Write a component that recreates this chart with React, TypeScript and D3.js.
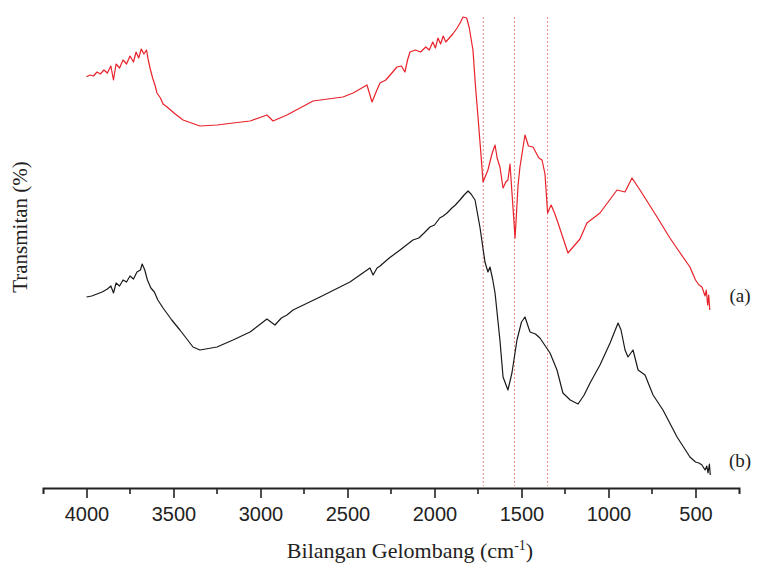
import React, { useRef, useEffect } from 'react';
import * as d3 from 'd3';

// spectrum (a): [wavenumber cm-1, transmitan] (offset upward for stacking)
const spectrumA: [number, number][] = [
  [4000, 103.3], [3980, 103.75], [3960, 103.5], [3940, 104.5], [3920, 104], [3900, 105],
  [3880, 104.25], [3860, 106], [3845, 102.5], [3830, 106.5], [3810, 105.5], [3790, 107.5],
  [3770, 106.5], [3750, 108.5], [3730, 107], [3715, 109.5], [3700, 108], [3685, 110.25],
  [3670, 109], [3655, 110], [3645, 107.5], [3635, 105.5], [3620, 103], [3605, 101],
  [3595, 99.25], [3575, 98], [3560, 96.5], [3537, 95.75], [3490, 94], [3445, 92.5], [3348, 91],
  [3250, 91.25], [3158, 91.75], [3060, 92.25], [2963, 93.75], [2928, 92.25], [2848, 93.75],
  [2698, 97.25], [2526, 98.25], [2468, 99.25], [2388, 101.25], [2359, 97], [2331, 100],
  [2313, 101.75], [2280, 102.5], [2250, 104], [2216, 105.75], [2190, 106], [2170, 104.5],
  [2155, 107.5], [2141, 109.5], [2110, 110], [2080, 109.5], [2050, 110.75], [2030, 110],
  [2010, 112], [1995, 110.5], [1980, 113], [1965, 111.5], [1950, 113.5], [1935, 112],
  [1915, 113], [1895, 114], [1870, 115.5], [1850, 117], [1836, 118.25], [1815, 118],
  [1800, 115.5], [1779, 110], [1765, 101.25], [1750, 93.25], [1735, 85], [1721, 77],
  [1693, 80], [1670, 84], [1652, 86.25], [1640, 83], [1624, 80.75], [1606, 75.5],
  [1590, 77], [1578, 77.5], [1566, 81.5], [1537, 63], [1520, 76], [1509, 80.75],
  [1480, 88.75], [1460, 86], [1434, 85.75], [1400, 83], [1382, 82.5], [1365, 79],
  [1350, 69.25], [1330, 71.25], [1310, 69.25], [1290, 66.75], [1233, 59.25], [1164, 62.75],
  [1124, 66.75], [1049, 69.25], [951, 75], [905, 74.5], [865, 78], [819, 75],
  [721, 68.25], [647, 63], [600, 60], [532, 55.75], [500, 52.5], [480, 51.25],
  [463, 50.75], [445, 48.5], [438, 50], [430, 46.25], [424, 48.75], [418, 45]
];

// spectrum (b)
const spectrumB: [number, number][] = [
  [4000, 48.25], [3970, 48.5], [3940, 49], [3910, 49.5], [3880, 50.25], [3860, 51],
  [3845, 49.25], [3830, 51.75], [3810, 51], [3790, 52.5], [3770, 52], [3750, 53.5],
  [3730, 52.75], [3710, 54.5], [3690, 55], [3680, 56.5], [3665, 55], [3650, 52.5],
  [3630, 50.5], [3610, 49.5], [3590, 47.5], [3560, 45.5], [3510, 42.5], [3463, 40], [3388, 35.75],
  [3348, 35], [3250, 35.75], [3158, 37.5], [3060, 39.5], [2963, 42.75], [2917, 41.25],
  [2880, 43], [2848, 43.75], [2813, 45], [2658, 48.25], [2486, 52], [2371, 55.5],
  [2353, 53.75], [2330, 55.5], [2313, 56], [2260, 58], [2198, 60], [2124, 62.5],
  [2090, 63], [2060, 64.25], [2026, 65.75], [2000, 66.25], [1970, 68], [1950, 68.5],
  [1928, 69.25], [1900, 70.5], [1880, 71.25], [1854, 72.5], [1830, 73.75], [1807, 74.75],
  [1790, 74], [1767, 72.5], [1739, 65.75], [1720, 60], [1710, 57], [1693, 54.5],
  [1681, 55.75], [1665, 52.5], [1652, 49.25], [1624, 37.5], [1606, 28.25], [1578, 25],
  [1555, 29.25], [1526, 37.5], [1500, 42], [1480, 43.25], [1451, 39.5], [1420, 39],
  [1394, 38], [1336, 34.25], [1296, 30], [1262, 24.25], [1220, 22.5], [1175, 21.5],
  [1140, 23.75], [1106, 26.75], [1049, 31.25], [991, 36.75], [945, 41.75], [928, 40],
  [905, 35], [888, 33.25], [859, 35], [830, 30], [790, 28.75], [744, 23.75],
  [687, 20], [606, 13.25], [532, 8.25], [500, 7], [480, 6.75], [463, 6.25],
  [445, 5], [435, 6], [428, 4.25], [420, 6.5], [415, 3.75]
];

const majorTicks = [4000, 3500, 3000, 2500, 2000, 1500, 1000, 500];
const minorTicks = [3750, 3250, 2750, 2250, 1750, 1250, 750];
const markerLines = [1720, 1540, 1350];

const App = () => {
  const ref = useRef<SVGSVGElement>(null);

  const width = 760;
  const height = 568;
  const axisY = 488;

  const x = d3.scaleLinear().domain([4250, 250]).range([43, 739]);
  const y = d3.scaleLinear().domain([0, 120]).range([490, 10]);

  useEffect(() => {
    const svg = d3.select(ref.current);
    svg.selectAll('*').remove();

    // dotted reference lines
    svg.append('g')
      .selectAll('line')
      .data(markerLines)
      .enter().append('line')
      .attr('x1', d => x(d)).attr('x2', d => x(d))
      .attr('y1', 17).attr('y2', axisY - 2)
      .attr('stroke', '#e58a80')
      .attr('stroke-width', 1)
      .attr('stroke-dasharray', '2,2');

    const line = d3.line<[number, number]>()
      .x(d => x(d[0]))
      .y(d => y(d[1]));

    svg.append('path')
      .datum(spectrumA)
      .attr('d', line)
      .attr('fill', 'none')
      .attr('stroke', '#e8222a')
      .attr('stroke-width', 1.2)
      .attr('stroke-linejoin', 'round');

    svg.append('path')
      .datum(spectrumB)
      .attr('d', line)
      .attr('fill', 'none')
      .attr('stroke', '#1a1a1a')
      .attr('stroke-width', 1.2)
      .attr('stroke-linejoin', 'round');

    // x axis
    const xAxis = d3.axisBottom(x)
      .tickValues(majorTicks)
      .tickSize(10)
      .tickSizeOuter(6)
      .tickFormat(d3.format('d'));

    const gx = svg.append('g')
      .attr('transform', 'translate(0,' + axisY + ')')
      .call(xAxis);
    gx.select('.domain').attr('stroke', '#222').attr('stroke-width', 2);
    gx.selectAll('.tick line').attr('stroke', '#222').attr('stroke-width', 1.6);
    gx.selectAll('.tick text')
      .attr('y', 19)
      .attr('dy', '0.71em')
      .attr('fill', '#222')
      .style('font-family', '"Liberation Sans", Arial, sans-serif')
      .style('font-size', '20px');

    svg.append('g')
      .attr('transform', 'translate(0,' + axisY + ')')
      .selectAll('line')
      .data(minorTicks)
      .enter().append('line')
      .attr('x1', d => x(d)).attr('x2', d => x(d))
      .attr('y1', 0).attr('y2', 6)
      .attr('stroke', '#222')
      .attr('stroke-width', 1.6);

    // axis titles
    const xt = svg.append('text')
      .attr('x', 410).attr('y', 558)
      .attr('text-anchor', 'middle')
      .attr('fill', '#222')
      .style('font-family', '"Liberation Serif", "Times New Roman", serif')
      .style('font-size', '22px');
    xt.append('tspan').text('Bilangan Gelombang (cm');
    xt.append('tspan').attr('dy', -8).style('font-size', '14px').text('-1');
    xt.append('tspan').attr('dy', 8).text(')');

    svg.append('text')
      .attr('transform', 'translate(27,227) rotate(-90)')
      .attr('text-anchor', 'middle')
      .attr('fill', '#222')
      .style('font-family', '"Liberation Serif", "Times New Roman", serif')
      .style('font-size', '21px')
      .text('Transmitan (%)');

    // series labels
    const labels = [{ t: '(a)', y: 302 }, { t: '(b)', y: 467 }];
    svg.append('g')
      .selectAll('text')
      .data(labels)
      .enter().append('text')
      .attr('x', 740).attr('y', d => d.y)
      .attr('text-anchor', 'middle')
      .attr('fill', '#222')
      .style('font-family', '"Liberation Serif", "Times New Roman", serif')
      .style('font-size', '19px')
      .text(d => d.t);
  }, []);

  return (
    <svg
      ref={ref}
      width={width}
      height={height}
      style={{ position: 'absolute', left: 0, top: 0, background: '#fff' }}
    />
  );
};

export default App;
